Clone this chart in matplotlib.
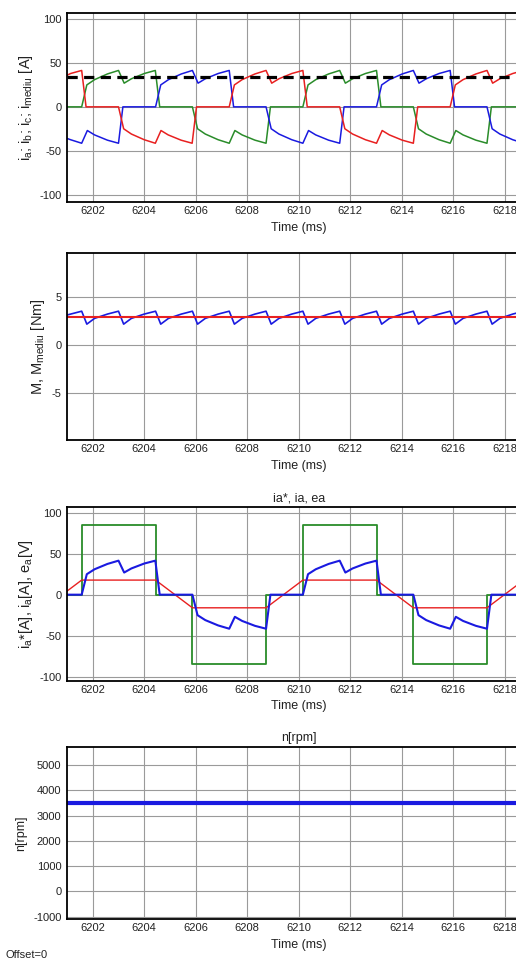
import matplotlib
matplotlib.use("Agg")
import matplotlib.pyplot as plt

plt.rcParams['font.family'] = ['Liberation Sans', 'DejaVu Sans']
plt.rcParams['axes.unicode_minus'] = False
plt.rcParams['mathtext.fontset'] = 'custom'
plt.rcParams['mathtext.rm'] = 'Liberation Sans'
plt.rcParams['mathtext.it'] = 'Liberation Sans'
plt.rcParams['mathtext.default'] = 'regular'

# ---------------- data ----------------
x_ticks = [6202, 6204, 6206, 6208, 6210, 6212, 6214, 6216, 6218]

# panel 1: phase currents
ia_t = [6201.0, 6201.57, 6201.77, 6202.07, 6202.57, 6203.00, 6203.22, 6203.50, 6204.00, 6204.43, 6204.60,
        6205.87, 6206.07, 6206.37, 6206.87, 6207.30, 6207.52, 6207.80, 6208.30, 6208.73, 6208.90,
        6210.16, 6210.36, 6210.66, 6211.16, 6211.59, 6211.81, 6212.09, 6212.59, 6213.02, 6213.19,
        6214.45, 6214.65, 6214.95, 6215.45, 6215.88, 6216.10, 6216.38, 6216.88, 6217.31, 6217.48, 6219.0]
ia_v = [0, 0, 25, 31, 37.5, 41.5, 27, 32, 38, 41.5, 0,
        0, -25, -31, -37.5, -41.5, -27, -32, -38, -41.5, 0,
        0, 25, 31, 37.5, 41.5, 27, 32, 38, 41.5, 0,
        0, -25, -31, -37.5, -41.5, -27, -32, -38, -41.5, 0, 0]

ib_t = [6201.0, 6201.14, 6201.57, 6201.79, 6202.07, 6202.57, 6203.00, 6203.17,
        6204.44, 6204.64, 6204.94, 6205.44, 6205.87, 6206.09, 6206.37, 6206.87, 6207.30, 6207.47,
        6208.73, 6208.93, 6209.23, 6209.73, 6210.16, 6210.38, 6210.66, 6211.16, 6211.59, 6211.76,
        6213.02, 6213.22, 6213.52, 6214.02, 6214.45, 6214.67, 6214.95, 6215.45, 6215.88, 6216.05,
        6217.31, 6217.51, 6217.81, 6218.31, 6218.74, 6218.96]
ib_v = [-36, -37.5, -41.5, -27, -32, -38, -41.5, 0,
        0, 25, 31, 37.5, 41.5, 27, 32, 38, 41.5, 0,
        0, -25, -31, -37.5, -41.5, -27, -32, -38, -41.5, 0,
        0, 25, 31, 37.5, 41.5, 27, 32, 38, 41.5, 0,
        0, -25, -31, -37.5, -41.5, -27]

ic_t = [6201.0, 6201.14, 6201.57, 6201.74,
        6203.00, 6203.20, 6203.50, 6204.00, 6204.43, 6204.65, 6204.93, 6205.43, 6205.86, 6206.03,
        6207.30, 6207.50, 6207.80, 6208.30, 6208.73, 6208.95, 6209.23, 6209.73, 6210.16, 6210.33,
        6211.59, 6211.79, 6212.09, 6212.59, 6213.02, 6213.24, 6213.52, 6214.02, 6214.45, 6214.62,
        6215.88, 6216.08, 6216.38, 6216.88, 6217.31, 6217.53, 6217.81, 6218.31, 6218.74, 6219.0]
ic_v = [36, 38, 41.5, 0,
        0, -25, -31, -37.5, -41.5, -27, -32, -38, -41.5, 0,
        0, 25, 31, 37.5, 41.5, 27, 32, 38, 41.5, 0,
        0, -25, -31, -37.5, -41.5, -27, -32, -38, -41.5, 0,
        0, 25, 31, 37.5, 41.5, 27, 32, 38, 41.5, 0]

imed_t = [6201.0, 6219.0]
imed_v = [34.5, 34.5]

# panel 2: torque
M_t = [6201.0, 6201.14,
       6201.57, 6201.77, 6202.07, 6202.57, 6203.00, 6203.20, 6203.50, 6204.00,
       6204.44, 6204.64, 6204.94, 6205.44, 6205.87, 6206.07, 6206.37, 6206.87,
       6207.30, 6207.50, 6207.80, 6208.30, 6208.73, 6208.93, 6209.23, 6209.73,
       6210.16, 6210.36, 6210.66, 6211.16, 6211.59, 6211.79, 6212.09, 6212.59,
       6213.02, 6213.22, 6213.52, 6214.02, 6214.45, 6214.65, 6214.95, 6215.45,
       6215.88, 6216.08, 6216.38, 6216.88, 6217.31, 6217.51, 6217.81, 6218.31,
       6218.74, 6218.94, 6219.0]
M_v = [3.15, 3.25,
       3.55, 2.2, 2.8, 3.25, 3.55, 2.2, 2.8, 3.25,
       3.55, 2.2, 2.8, 3.25, 3.55, 2.2, 2.8, 3.25,
       3.55, 2.2, 2.8, 3.25, 3.55, 2.2, 2.8, 3.25,
       3.55, 2.2, 2.8, 3.25, 3.55, 2.2, 2.8, 3.25,
       3.55, 2.2, 2.8, 3.25, 3.55, 2.2, 2.8, 3.25,
       3.55, 2.2, 2.8, 3.25, 3.55, 2.2, 2.8, 3.25,
       3.55, 2.2, 2.4]
Mmed_t = [6201.0, 6219.0]
Mmed_v = [2.95, 2.95]

# panel 3: ia*, ia, ea
ea_t = [6201.0, 6201.57, 6204.44, 6205.87, 6208.73, 6210.16, 6213.02, 6214.45, 6217.31, 6219.0]
ea_v = [0, 85, 0, -85, 0, 85, 0, -85, 0, 0]
iref_t = [6200.14, 6201.57, 6204.44, 6205.87, 6208.73, 6210.16, 6213.02, 6214.45, 6217.31, 6218.74]
iref_v = [-16, 17.8, 17.8, -16, -16, 17.8, 17.8, -16, -16, 17.8]

# panel 4: speed
n_t = [6201.0, 6219.0]
n_v = [3500, 3500]

RED = '#e82020'
GREEN = '#2a8c2a'
BLUE = '#1a1ae0'
TXT = '#222222'

fig = plt.figure(figsize=(5.16, 9.6), dpi=100)
W = 516.0
H = 960.0
left = 67 / W
width = (6219.0 - 6201.0) * 25.75 / W


def make_ax(top_px, bot_px, ylim, yticks):
    ax = fig.add_axes([left, 1 - bot_px / H, width, (bot_px - top_px) / H])
    ax.set_xlim(6201.0, 6219.0)
    ax.set_ylim(*ylim)
    ax.set_xticks(x_ticks)
    ax.set_yticks(yticks)
    ax.grid(True, color='#9a9a9a', lw=0.8)
    ax.set_axisbelow(True)
    ax.tick_params(length=0, labelsize=8, colors=TXT, pad=4)
    ax.tick_params(axis='x', pad=3)
    for s in ax.spines.values():
        s.set_color('black')
        s.set_linewidth(1.3)
    ax.set_xlabel('Time (ms)', fontsize=9, color=TXT, labelpad=4)
    return ax


ax1 = make_ax(13, 202, (-108.5, 107), [-100, -50, 0, 50, 100])
ax1.plot(ia_t, ia_v, color=GREEN, lw=1.1)
ax1.plot(ib_t, ib_v, color=BLUE, lw=1.1)
ax1.plot(ic_t, ic_v, color=RED, lw=1.1)
ax1.plot(imed_t, imed_v, color='black', lw=2.3, linestyle=(0, (3.2, 2.0)))
ax1.set_ylabel('i$_a$; i$_b$; i$_c$; i$_{mediu}$ [A]', fontsize=10.5, color=TXT, labelpad=3)

ax2 = make_ax(252.7, 440, (-9.9, 9.66), [-5, 0, 5])
ax2.plot(M_t, M_v, color=BLUE, lw=1.2)
ax2.plot(Mmed_t, Mmed_v, color=RED, lw=1.5)
ax2.set_ylabel('M, M$_{mediu}$ [Nm]', fontsize=10.5, color=TXT, labelpad=3)

ax3 = make_ax(506.7, 680.7, (-104.9, 107.3), [-100, -50, 0, 50, 100])
ax3.plot(ea_t, ea_v, color=GREEN, lw=1.3, drawstyle='steps-post')
ax3.plot(iref_t, iref_v, color=RED, lw=1.0)
ax3.plot(ia_t, ia_v, color=BLUE, lw=1.5)
ax3.set_ylabel('i$_a$*[A], i$_a$[A], e$_a$[V]', fontsize=10.5, color=TXT, labelpad=3)
ax3.set_title('ia*, ia, ea', fontsize=9, color=TXT, pad=4)

ax4 = make_ax(746.7, 919.3, (-1103, 5724), [-1000, 0, 1000, 2000, 3000, 4000, 5000])
ax4.plot(n_t, n_v, color=BLUE, lw=3.0)
ax4.set_ylabel('n[rpm]', fontsize=9, color=TXT, labelpad=4)
ax4.set_title('n[rpm]', fontsize=9, color=TXT, pad=4)

fig.text(5 / W, 1 - 955 / H, 'Offset=0', fontsize=8, color=TXT, va='center', ha='left')

fig.savefig('out.png', dpi=100)
